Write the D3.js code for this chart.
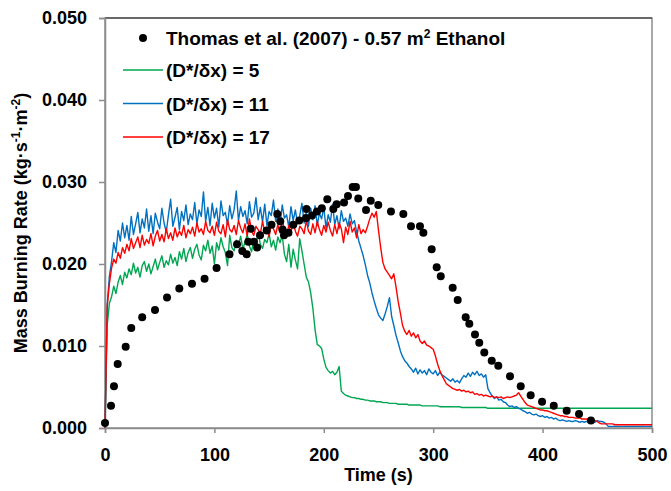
<!DOCTYPE html>
<html>
<head>
<meta charset="utf-8">
<script src="https://cdn.jsdelivr.net/npm/d3@7/dist/d3.min.js"></script>
<style>
  body { margin: 0; background: #fff; }
  text { font-family: "Liberation Sans", Arial, sans-serif; font-weight: bold; fill: #000; }
</style>
</head>
<body>
<script>
// Thomas et al. (2007) measurements: time (s) and mass burning rate (kg/s/m2)
const thomasTime = [0, 5.5, 8.2, 11.6, 18.9, 24, 34, 45.7, 56.7, 67.9, 79.5, 91, 102, 113.8, 120.7,
  125.5, 129.5, 131, 133.2, 136.2, 139, 141.7, 147.8, 152.2, 157.5, 160.2, 162.3, 163.6, 167.7,
  172.1, 177.6, 183.7, 184.2, 189.2, 193.8, 198.2, 203.2, 208.7, 211.8, 218.5, 222.1, 226.4,
  229.4, 231.5, 238.6, 242.9, 249.8, 261.4, 272.7, 279.7, 287.9, 291, 298.6, 303.2, 306.9,
  317.8, 322.4, 329.7, 333, 338.2, 342.1, 346.7, 353.5, 359.5, 370.2, 380, 389.1, 399.5,
  410.2, 422, 433.3, 444.2];
const thomasRate = [0.0006, 0.0027, 0.0051, 0.0078, 0.0099, 0.0122, 0.0135, 0.0144, 0.0159, 0.0170,
  0.0176, 0.0182, 0.0195, 0.0212, 0.0224, 0.0216, 0.0212, 0.0227, 0.0243, 0.0227, 0.0220, 0.0235,
  0.0241, 0.0248, 0.0261, 0.0252, 0.0242, 0.0235, 0.0238, 0.0248, 0.0253, 0.0256, 0.0267, 0.0259,
  0.0264, 0.0268, 0.0279, 0.0267, 0.0273, 0.0275, 0.0283, 0.0294, 0.0294, 0.0280, 0.0266, 0.0277,
  0.0272, 0.0264, 0.0261, 0.0246, 0.0246, 0.0238, 0.0218, 0.0196, 0.0185, 0.0171, 0.0156, 0.0135,
  0.0127, 0.0114, 0.0104, 0.0092, 0.0082, 0.0076, 0.0063, 0.0051, 0.0040, 0.0032, 0.0027, 0.0021,
  0.0017, 0.0009];

// simulations, sampled every 2 s from 0 to 500 s, in g/s/m2
const simStep = 2;
const sim5 = [
  0, 12.5, 15.2, 16.0, 17.3, 16.4, 17.8, 18.6, 17.5, 19.0,
  18.3, 19.4, 18.7, 20.1, 18.9, 19.6, 18.4, 19.8, 20.3, 19.1,
  20.0, 18.8, 19.7, 20.6, 19.3, 20.2, 21.0, 19.6, 20.4, 19.9,
  21.2, 20.1, 20.8, 19.8, 21.5, 20.6, 21.9, 20.3, 21.4, 22.0,
  20.7, 21.8, 22.4, 21.1, 20.5, 22.3, 21.6, 22.9, 21.3, 22.2,
  20.0, 22.6, 21.7, 23.2, 22.1, 21.4, 19.8, 23.5, 22.0, 21.6,
  22.9, 22.3, 23.4, 21.8, 22.7, 23.6, 22.2, 21.5, 23.1, 22.5,
  23.8, 22.4, 21.9, 23.0, 22.6, 23.7, 22.1, 22.9, 21.7, 23.3,
  22.6, 23.5, 21.2, 20.3, 22.4, 19.6, 21.8, 20.5, 19.4, 23.1,
  21.6, 20.0, 18.4, 17.8, 16.5, 14.6, 12.0, 10.2, 10.0, 9.7,
  8.4, 7.4, 7.0, 6.7, 6.9, 6.5, 6.8, 7.5, 4.5, 4.2,
  4.0, 3.9, 3.8, 3.7, 3.7, 3.6, 3.6, 3.5, 3.5, 3.4,
  3.4, 3.3, 3.3, 3.3, 3.2, 3.2, 3.2, 3.1, 3.1, 3.1,
  3.0, 3.0, 3.0, 3.0, 2.9, 2.9, 2.9, 2.9, 2.9, 2.8,
  2.8, 2.8, 2.8, 2.8, 2.8, 2.7, 2.7, 2.7, 2.7, 2.7,
  2.7, 2.7, 2.7, 2.6, 2.6, 2.6, 2.6, 2.6, 2.6, 2.6,
  2.6, 2.6, 2.6, 2.5, 2.5, 2.5, 2.5, 2.5, 2.5, 2.5,
  2.5, 2.5, 2.5, 2.5, 2.5, 2.4, 2.4, 2.4, 2.4, 2.4,
  2.4, 2.4, 2.4, 2.4, 2.4, 2.4, 2.4, 2.4, 2.4, 2.4,
  2.4, 2.4, 2.4, 2.4, 2.4, 2.4, 2.4, 2.4, 2.4, 2.4,
  2.4, 2.4, 2.4, 2.4, 2.4, 2.4, 2.4, 2.4, 2.4, 2.4,
  2.4, 2.4, 2.4, 2.4, 2.4, 2.4, 2.4, 2.4, 2.4, 2.4,
  2.4, 2.4, 2.4, 2.4, 2.4, 2.4, 2.4, 2.4, 2.4, 2.4,
  2.4, 2.4, 2.4, 2.4, 2.4, 2.4, 2.4, 2.4, 2.4, 2.4,
  2.4, 2.4, 2.4, 2.4, 2.4, 2.4, 2.4, 2.4, 2.4, 2.4,
  2.4];
const sim11 = [
  0, 15.0, 18.5, 20.3, 22.6, 21.4, 24.1, 22.8, 25.0, 23.2,
  24.7, 22.9, 25.8, 23.6, 24.9, 26.3, 23.8, 25.5, 24.4, 26.7,
  24.0, 25.9, 23.7, 26.2, 25.1, 24.3, 26.8, 25.0, 23.9, 26.0,
  27.9, 24.6, 25.7, 26.9, 24.2, 26.4, 25.3, 27.2, 24.8, 26.1,
  25.4, 27.5, 24.9, 26.6, 25.8, 28.8, 25.2, 26.9, 24.7, 27.4,
  25.6, 26.8, 24.5, 27.7, 25.9, 26.3, 24.8, 27.1, 25.5, 26.6,
  28.9, 25.3, 27.0, 25.8, 26.5, 24.9, 27.6, 25.7, 26.2, 28.1,
  25.4, 26.9, 25.1, 27.3, 24.7, 26.4, 25.9, 27.8, 25.2, 26.7,
  24.8, 27.2, 25.6, 26.0, 24.5, 27.0, 25.3, 26.6, 24.9, 25.9,
  27.4, 25.0, 26.3, 24.6, 26.8, 25.4, 27.1, 24.7, 26.2, 25.5,
  26.9, 24.4, 26.0, 25.1, 27.3, 24.8, 25.9, 24.3, 26.5, 25.2,
  25.6, 24.6, 26.1, 24.9, 25.3, 23.9, 22.8, 21.9, 21.0, 19.9,
  18.6, 17.7, 16.5, 15.5, 14.6, 13.8, 13.4, 13.1, 13.9, 14.8,
  15.9, 13.6, 12.5, 11.3, 10.4, 9.4, 8.7, 8.2, 7.9, 7.5,
  7.2, 6.8, 7.3, 6.6, 7.1, 6.7, 7.0, 6.5, 7.2, 6.8,
  6.6, 7.0, 6.4, 6.8, 6.5, 6.3, 6.1, 5.9, 5.7, 6.0,
  5.6, 5.8, 5.5, 6.0, 6.4, 6.2, 6.7, 6.3, 6.8, 6.5,
  6.9, 6.4, 6.6, 6.2, 6.5, 4.8, 4.3, 3.9, 3.6, 3.8,
  3.4, 3.5, 3.2, 3.1, 2.8, 2.6, 2.7, 2.5, 2.6, 2.4,
  2.3, 2.1, 2.0, 1.8, 1.9, 1.7, 1.6, 1.7, 1.5, 1.4,
  1.5, 1.3, 1.4, 1.2, 1.3, 1.1, 1.2, 1.0, 0.9, 1.0,
  0.9, 0.8, 0.9, 0.8, 0.8, 0.9, 0.8, 0.7, 0.8, 0.7,
  0.8, 0.7, 0.7, 0.8, 0.7, 0.9, 0.8, 0.8, 0.7, 0.5,
  0.2, 0.2, 0.2, 0.2, 0.2, 0.2, 0.2, 0.2, 0.2, 0.2,
  0.2, 0.2, 0.2, 0.2, 0.2, 0.2, 0.2, 0.2, 0.2, 0.2,
  0.2];
const sim17 = [
  0, 14.8, 17.6, 19.5, 20.6, 20.1, 21.4, 20.7, 22.0, 21.3,
  22.4, 21.6, 23.1, 21.9, 22.6, 23.3, 22.0, 23.5, 22.3, 23.0,
  22.5, 23.7, 22.2, 23.4, 24.1, 22.8, 23.6, 22.7, 24.3, 23.1,
  23.8, 22.9, 24.4, 23.3, 24.0, 23.5, 24.7, 23.2, 24.2, 23.7,
  24.5, 23.4, 25.0, 23.9, 24.3, 23.6, 25.2, 24.1, 23.8, 24.6,
  23.5, 25.1, 24.0, 23.7, 24.8, 23.3, 25.4, 24.2, 23.9, 24.7,
  23.6, 25.3, 24.4, 23.8, 24.9, 23.4, 25.5, 24.0, 23.5, 24.6,
  24.2, 23.7, 25.2, 23.9, 24.5, 23.3, 25.0, 24.3, 23.6, 24.8,
  23.8, 25.4, 24.1, 23.5, 24.7, 23.9, 25.1, 24.0, 23.4, 24.6,
  24.3, 23.7, 25.3, 24.0, 23.6, 24.9, 23.8, 25.2, 24.2, 23.5,
  24.7, 23.9, 25.1, 24.1, 23.4, 24.8, 23.7, 25.0, 24.3, 22.6,
  24.5, 23.6, 25.2, 23.9, 24.4, 23.2, 24.8, 23.7, 24.2, 23.8,
  24.6, 25.5, 26.2, 25.7, 26.4, 24.1, 22.0, 20.2, 19.4, 19.0,
  18.6, 18.2, 18.8, 17.2, 15.4, 14.0, 12.5, 11.8, 11.4, 11.9,
  11.2, 11.6, 11.0, 11.4, 10.6, 10.3, 10.6, 10.1, 10.0, 9.8,
  9.6, 8.8, 7.8, 7.0, 6.4, 5.9, 5.4, 5.2, 5.0, 4.8,
  4.7, 4.6, 4.7, 4.5, 4.6, 4.4, 4.5, 4.3, 4.4, 4.1,
  4.2, 4.0, 4.1, 3.9, 4.0, 3.9, 3.8, 3.9, 3.7, 3.8,
  3.7, 3.8, 3.6, 3.7, 3.8, 3.7, 3.8, 3.9, 4.0, 4.3,
  3.9, 3.5, 3.1, 2.8, 2.7, 2.6, 2.5, 2.4, 2.3, 2.2,
  2.2, 2.1, 2.1, 2.0, 1.9, 1.8, 1.7, 1.6, 1.5, 1.5,
  1.4, 1.4, 1.3, 1.3, 1.3, 1.2, 1.2, 1.2, 1.1, 1.1,
  1.1, 1.0, 1.0, 1.0, 0.9, 0.8, 0.6, 0.5, 0.5, 0.5,
  0.5, 0.5, 0.5, 0.4, 0.4, 0.4, 0.4, 0.4, 0.4, 0.4,
  0.4, 0.4, 0.4, 0.4, 0.4, 0.4, 0.4, 0.4, 0.4, 0.4,
  0.4];

const xTicks = [0, 100, 200, 300, 400, 500];
const yTicks = [0, 0.01, 0.02, 0.03, 0.04, 0.05];

const series = [
  { name: "(D*/δx) = 5", color: "#00a651", values: sim5 },
  { name: "(D*/δx) = 11", color: "#0070c0", values: sim11 },
  { name: "(D*/δx) = 17", color: "#ff0000", values: sim17 }
];

const width = 671, height = 491;
const plotLeft = 105, plotRight = 652, plotTop = 18, plotBottom = 428;

const svg = d3.select("body").append("svg")
  .attr("width", width)
  .attr("height", height);

const x = d3.scaleLinear().domain([0, 500]).range([plotLeft, plotRight]);
const y = d3.scaleLinear().domain([0, 0.05]).range([plotBottom, plotTop]);

// plot frame
svg.append("rect")
  .attr("x", plotLeft).attr("y", plotTop)
  .attr("width", plotRight - plotLeft).attr("height", plotBottom - plotTop)
  .attr("fill", "none")
  .attr("stroke", "#8c8c8c")
  .attr("stroke-width", 1.5);
svg.append("line")
  .attr("x1", plotLeft).attr("x2", plotRight)
  .attr("y1", plotTop).attr("y2", plotTop)
  .attr("stroke", "#555")
  .attr("stroke-width", 1.5);

// axes
const yAxis = svg.append("g")
  .attr("transform", `translate(${plotLeft},0)`)
  .call(d3.axisLeft(y).tickValues(yTicks).tickFormat(d3.format(".3f")).tickSize(6).tickPadding(12));
const xAxis = svg.append("g")
  .attr("transform", `translate(0,${plotBottom})`)
  .call(d3.axisBottom(x).tickValues(xTicks).tickSize(5).tickPadding(15));

[xAxis, yAxis].forEach(g => {
  g.select(".domain").attr("stroke", "#8c8c8c").attr("stroke-width", 1.5);
  g.selectAll(".tick line").attr("stroke", "#8c8c8c").attr("stroke-width", 1.5);
  g.selectAll(".tick text")
    .attr("fill", "#000")
    .style("font-family", '"Liberation Sans", Arial, sans-serif')
    .style("font-weight", "bold")
    .style("font-size", "18px");
});

// simulation lines
const line = d3.line()
  .x((d, i) => x(i * simStep))
  .y(d => y(d / 1000));

series.forEach(s => {
  svg.append("path")
    .datum(s.values)
    .attr("fill", "none")
    .attr("stroke", s.color)
    .attr("stroke-width", 1.4)
    .attr("stroke-linejoin", "round")
    .attr("d", line);
});

// experiment dots
svg.append("g")
  .selectAll("circle")
  .data(thomasTime)
  .join("circle")
  .attr("cx", d => x(d))
  .attr("cy", (d, i) => y(thomasRate[i]))
  .attr("r", 4)
  .attr("fill", "#000");

// axis titles
svg.append("text")
  .attr("x", (plotLeft + plotRight) / 2)
  .attr("y", 481)
  .attr("text-anchor", "middle")
  .style("font-size", "18px")
  .text("Time (s)");

const yTitle = svg.append("text")
  .attr("transform", `translate(27,${(plotTop + plotBottom) / 2}) rotate(-90)`)
  .attr("text-anchor", "middle")
  .style("font-size", "18px");
yTitle.append("tspan").text("Mass Burning Rate (kg·s");
yTitle.append("tspan").attr("dy", -7).style("font-size", "12px").text("-1");
yTitle.append("tspan").attr("dy", 7).text("·m");
yTitle.append("tspan").attr("dy", -7).style("font-size", "12px").text("-2");
yTitle.append("tspan").attr("dy", 7).text(")");

// legend
const legend = svg.append("g");
legend.append("circle").attr("cx", 143).attr("cy", 38).attr("r", 4).attr("fill", "#000");
const lt = legend.append("text").attr("x", 166).attr("y", 45).style("font-size", "19px");
lt.append("tspan").text("Thomas et al. (2007) - 0.57 m");
lt.append("tspan").attr("dy", -7).style("font-size", "12px").text("2");
lt.append("tspan").attr("dy", 7).text(" Ethanol");

series.forEach((s, i) => {
  const ly = 70 + i * 33.5;
  legend.append("line")
    .attr("x1", 123).attr("x2", 163)
    .attr("y1", ly).attr("y2", ly)
    .attr("stroke", s.color)
    .attr("stroke-width", 1.5);
  legend.append("text")
    .attr("x", 166).attr("y", ly + 7)
    .style("font-size", "19px")
    .text(s.name);
});
</script>
</body>
</html>
